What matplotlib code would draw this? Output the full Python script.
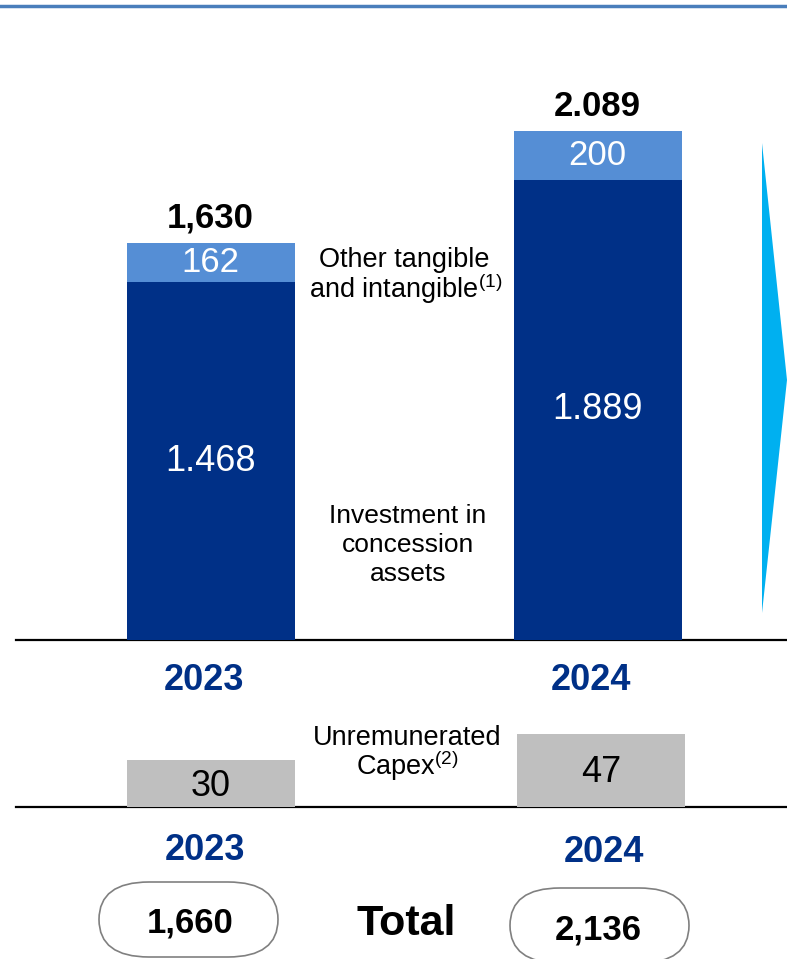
import matplotlib.pyplot as plt
from matplotlib.patches import Polygon, FancyBboxPatch

plt.rcParams['font.family'] = ['Liberation Sans', 'DejaVu Sans']
plt.rcParams['mathtext.fontset'] = 'custom'
plt.rcParams['mathtext.rm'] = 'Liberation Sans'

years = ['2023', '2024']
concession = [1468, 1889]
other_tangible = [162, 200]
unremunerated = [30, 47]

concession_labels = ['1.468', '1.889']
other_labels = ['162', '200']
subtotal_labels = ['1,630', '2.089']

subtotals = [c + o for c, o in zip(concession, other_tangible)]
totals = [s + u for s, u in zip(subtotals, unremunerated)]

DARK = '#003087'
LIGHT = '#558ED5'
GREY = '#BFBFBF'
CYAN = '#00B0F0'

W, H = 787, 959
fig = plt.figure(figsize=(W / 100, H / 100), dpi=100)

# overlay in pixel units for the free text, arrow and boxes
ov = fig.add_axes([0, 0, 1, 1])
ov.set_xlim(0, W)
ov.set_ylim(H, 0)
ov.axis('off')

# main stacked bars
ax = fig.add_axes([0, (H - 640) / H, 1, 640 / H])
ax.set_xlim(0, W)
ax.set_ylim(0, 640 / 0.2436)
ax.axis('off')
ax.patch.set_alpha(0)
xs = [210.5, 597.5]
bw = 168
ax.bar(xs, concession, width=bw, color=DARK)
ax.bar(xs, other_tangible, width=bw, bottom=concession, color=LIGHT)
for x, c, o, s, cl, ol, sl in zip(xs, concession, other_tangible, subtotals,
                                  concession_labels, other_labels, subtotal_labels):
    ax.text(x, c / 2, cl, color='white', fontsize=26, ha='center', va='center')
    ax.text(x, c + o / 2, ol, color='white', fontsize=25, ha='center', va='center')
    ax.annotate(sl, (x, s), xytext=(0, 18), textcoords='offset points',
                fontsize=25, fontweight='bold', ha='center', va='center')

# unremunerated capex bars
ax2 = fig.add_axes([0, (H - 807) / H, 1, 110 / H])
ax2.set_xlim(0, W)
ax2.set_ylim(0, 110 / 1.553)
ax2.axis('off')
ax2.patch.set_alpha(0)
xs2 = [211, 601]
ax2.bar(xs2, unremunerated, width=bw, color=GREY)
for x, u in zip(xs2, unremunerated):
    ax2.text(x, u / 2 - 1.5, str(u), fontsize=26, ha='center', va='center')

# rules
ov.plot([0, W], [6, 6], color='#4A7EBB', lw=2.5)
ov.plot([16, W], [640, 640], color='black', lw=1.6)
ov.plot([16, W], [807, 807], color='black', lw=1.6)

# growth arrow
ov.add_patch(Polygon([(762, 143), (762, 613), (787, 380)], closed=True,
                     color=CYAN, lw=0))

# category texts
ov.text(404, 260, 'Other tangible', fontsize=19.5, ha='center', va='center')
ov.text(406, 289, 'and intangible$^{(1)}$', fontsize=19.5, ha='center', va='center')
ov.text(408, 545, 'Investment in\nconcession\nassets', fontsize=19,
        ha='center', va='center', linespacing=1.25)
ov.text(407, 738, 'Unremunerated', fontsize=19.5, ha='center', va='center')
ov.text(407, 766, 'Capex$^{(2)}$', fontsize=19.5, ha='center', va='center')

for x, y, lab in zip([204, 591, 205, 604], [680, 680, 850, 852], years + years):
    ov.text(x, y, lab, fontsize=26, fontweight='bold', color=DARK,
            ha='center', va='center')

# totals in rounded boxes (elliptical corners)
ov.text(406, 924, 'Total', fontsize=31, fontweight='bold', ha='center', va='center')
for (x0, y0, cx, cy), t in zip([(99, 882, 190, 923), (510, 888, 598, 930)], totals):
    ov.add_patch(FancyBboxPatch((x0, y0), 179, 75,
                                boxstyle='round,pad=0,rounding_size=50',
                                mutation_aspect=0.75,
                                fc='white', ec='#808080', lw=1.2))
    ov.text(cx, cy, f'{t:,}', fontsize=25, fontweight='bold', ha='center', va='center')

fig.savefig('out.png', dpi=100)
